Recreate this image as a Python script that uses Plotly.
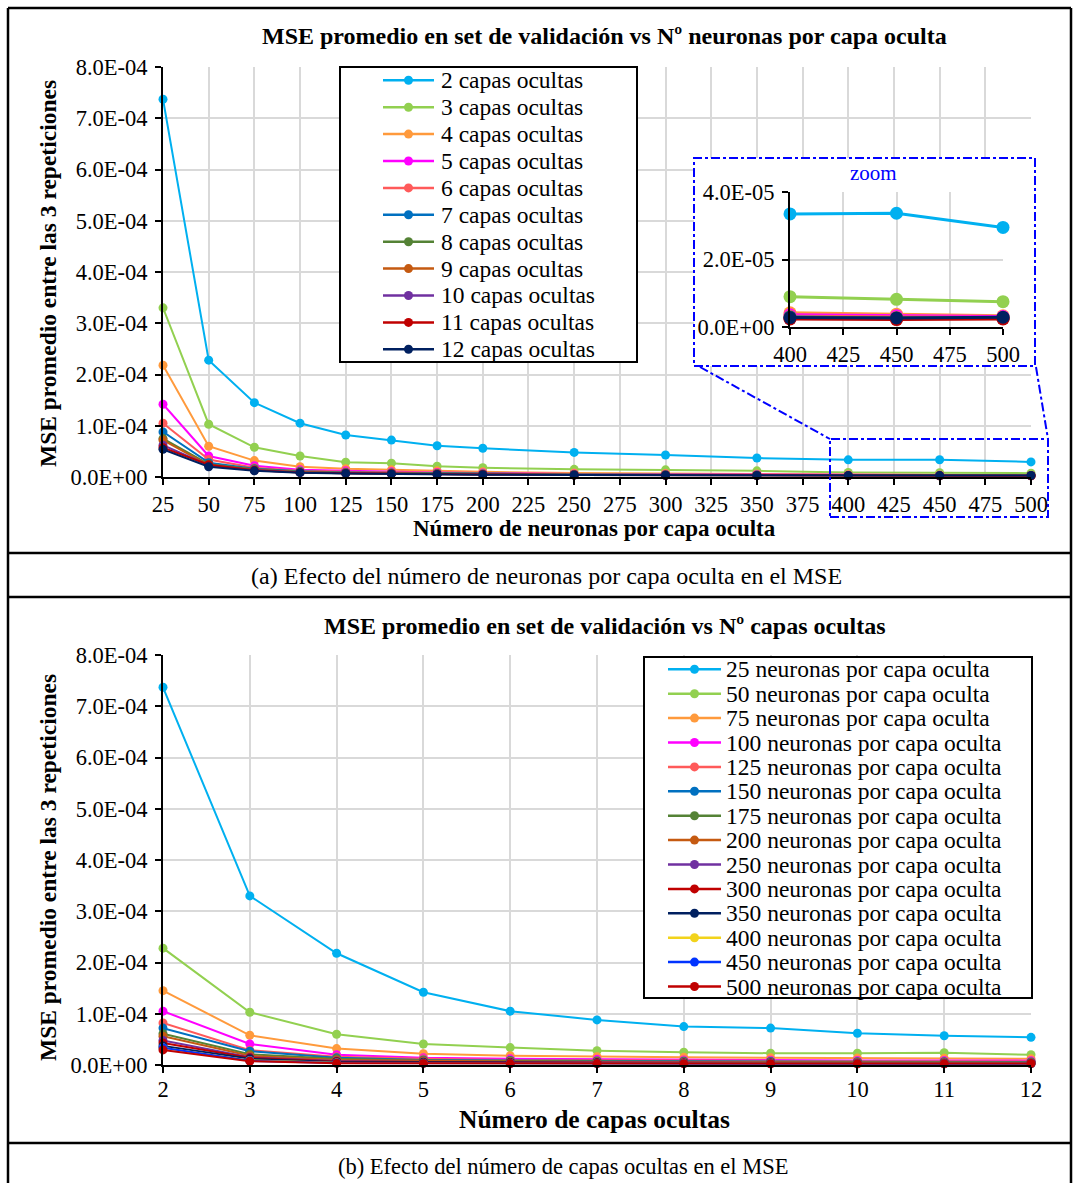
import plotly.graph_objects as go

W, H = 1073, 1183
FONT = "Liberation Serif"

# ---------------- data ----------------
neurons = [25, 50, 75, 100, 125, 150, 175, 200, 250, 300, 350, 400, 450, 500]
layers = [2, 3, 4, 5, 6, 7, 8, 9, 10, 11, 12]

# MSE (mean of 3 repetitions) per number of hidden layers, one value per neuron count
mse_2 = [7.37e-4, 2.28e-4, 1.45e-4, 1.05e-4, 0.82e-4, 0.72e-4, 0.61e-4, 0.56e-4, 0.48e-4, 0.43e-4, 0.37e-4, 3.35e-5, 3.37e-5, 2.95e-5]
mse_3 = [3.30e-4, 1.03e-4, 0.58e-4, 0.41e-4, 0.29e-4, 0.27e-4, 0.21e-4, 0.18e-4, 0.15e-4, 0.14e-4, 0.12e-4, 9.0e-6, 8.2e-6, 7.5e-6]
mse_4 = [2.18e-4, 0.60e-4, 0.32e-4, 0.20e-4, 0.16e-4, 0.14e-4, 0.12e-4, 0.10e-4, 0.08e-4, 0.07e-4, 0.06e-4, 4.2e-6, 3.8e-6, 3.3e-6]
mse_5 = [1.42e-4, 0.41e-4, 0.22e-4, 0.14e-4, 0.12e-4, 0.10e-4, 0.09e-4, 0.08e-4, 0.06e-4, 0.055e-4, 0.05e-4, 3.6e-6, 3.3e-6, 3.1e-6]
mse_6 = [1.05e-4, 0.34e-4, 0.18e-4, 0.12e-4, 0.10e-4, 0.09e-4, 0.08e-4, 0.07e-4, 0.055e-4, 0.05e-4, 0.045e-4, 3.2e-6, 2.9e-6, 2.8e-6]
mse_7 = [0.88e-4, 0.28e-4, 0.16e-4, 0.11e-4, 0.09e-4, 0.08e-4, 0.07e-4, 0.06e-4, 0.05e-4, 0.045e-4, 0.04e-4, 3.0e-6, 2.7e-6, 2.7e-6]
mse_8 = [0.75e-4, 0.25e-4, 0.15e-4, 0.10e-4, 0.085e-4, 0.075e-4, 0.065e-4, 0.055e-4, 0.045e-4, 0.04e-4, 0.035e-4, 2.8e-6, 2.6e-6, 2.6e-6]
mse_9 = [0.72e-4, 0.23e-4, 0.14e-4, 0.095e-4, 0.08e-4, 0.07e-4, 0.06e-4, 0.05e-4, 0.045e-4, 0.04e-4, 0.035e-4, 2.7e-6, 2.5e-6, 2.5e-6]
mse_10 = [0.62e-4, 0.23e-4, 0.135e-4, 0.09e-4, 0.075e-4, 0.065e-4, 0.055e-4, 0.05e-4, 0.04e-4, 0.035e-4, 0.03e-4, 2.5e-6, 2.4e-6, 2.5e-6]
mse_11 = [0.57e-4, 0.24e-4, 0.13e-4, 0.09e-4, 0.075e-4, 0.065e-4, 0.055e-4, 0.05e-4, 0.04e-4, 0.035e-4, 0.03e-4, 2.4e-6, 2.2e-6, 2.4e-6]
mse_12 = [0.54e-4, 0.20e-4, 0.12e-4, 0.085e-4, 0.07e-4, 0.06e-4, 0.05e-4, 0.045e-4, 0.04e-4, 0.035e-4, 0.03e-4, 2.8e-6, 2.7e-6, 2.9e-6]
mse_by_layers = [mse_2, mse_3, mse_4, mse_5, mse_6, mse_7, mse_8, mse_9, mse_10, mse_11, mse_12]

layer_names = [f"{n} capas ocultas" for n in layers]
neuron_names = [f"{n} neuronas por capa oculta" for n in neurons]

layer_colors = ["#00B0F0", "#92D050", "#FF9A3C", "#FF00FF", "#FF5A5A", "#0070C0",
                "#548235", "#C55A11", "#7030A0", "#C00000", "#002060"]
neuron_colors = ["#00B0F0", "#92D050", "#FF9A3C", "#FF00FF", "#FF5A5A", "#0070C0",
                 "#548235", "#C55A11", "#7030A0", "#C00000", "#002060", "#F2D31B",
                 "#0033FF", "#C00000"]

main_yticks = [0, 1e-4, 2e-4, 3e-4, 4e-4, 5e-4, 6e-4, 7e-4, 8e-4]
main_yticktext = ["0.0E+00", "1.0E-04", "2.0E-04", "3.0E-04", "4.0E-04",
                  "5.0E-04", "6.0E-04", "7.0E-04", "8.0E-04"]
zoom_yticks = [0, 2e-5, 4e-5]
zoom_yticktext = ["0.0E+00", "2.0E-05", "4.0E-05"]
zoom_neurons_from = 400

title_a = "MSE promedio en set de validación vs Nº neuronas por capa oculta"
title_b = "MSE promedio en set de validación vs Nº capas ocultas"
ytitle = "MSE promedio entre las 3 repeticiones"
xtitle_a = "Número de neuronas por capa oculta"
xtitle_b = "Número de capas ocultas"
caption_a = "(a) Efecto del número de neuronas por capa oculta en el MSE"
caption_b = "(b) Efecto del número de capas ocultas en el MSE"


# ---------------- helpers (pixel -> paper) ----------------
def PX(p):
    return p / W


def PY(p):
    return 1 - p / H


GRID = "#D9D9D9"


def axis_style(**kw):
    d = dict(showgrid=True, gridcolor=GRID, gridwidth=1.5, zeroline=False,
             showline=True, linecolor="black", linewidth=2, automargin=False,
             ticks="outside", ticklen=6, tickwidth=1.5, tickcolor="black",
             tickfont=dict(family=FONT, size=22.5, color="black"))
    d.update(kw)
    return d


fig = go.Figure()

# ---- chart (a): MSE vs neurons, one line per number of layers ----
for name, vals, col in zip(layer_names, mse_by_layers, layer_colors):
    fig.add_trace(go.Scatter(x=neurons, y=vals, name=name, mode="lines+markers",
                             line=dict(color=col, width=2), marker=dict(color=col, size=9),
                             cliponaxis=False, showlegend=False, xaxis="x", yaxis="y"))

# ---- chart (b): MSE vs layers, one line per neuron count ----
for j, (name, col) in enumerate(zip(neuron_names, neuron_colors)):
    vals = [row[j] for row in mse_by_layers]
    fig.add_trace(go.Scatter(x=layers, y=vals, name=name, mode="lines+markers",
                             line=dict(color=col, width=2), marker=dict(color=col, size=9),
                             cliponaxis=False, showlegend=False, xaxis="x2", yaxis="y2"))

# ---- white box behind the zoom inset (empty subplot) ----
fig.add_trace(go.Scatter(x=[None], y=[None], showlegend=False, xaxis="x3", yaxis="y3",
                         hoverinfo="skip"))

# ---- zoom inset ----
k0 = neurons.index(zoom_neurons_from)
for name, vals, col in zip(layer_names, mse_by_layers, layer_colors):
    fig.add_trace(go.Scatter(x=neurons[k0:], y=vals[k0:], name=name, mode="lines+markers",
                             line=dict(color=col, width=3), marker=dict(color=col, size=13),
                             cliponaxis=False, showlegend=False, xaxis="x4", yaxis="y4"))

fig.update_layout(
    width=W, height=H, autosize=False,
    margin=dict(l=0, r=0, t=0, b=0, pad=0, autoexpand=False),
    paper_bgcolor="white", plot_bgcolor="white", showlegend=False,
    font=dict(family=FONT, color="black"),
    xaxis=axis_style(domain=[PX(163), PX(1031)], range=[25, 500], tickmode="linear",
                     tick0=25, dtick=25, anchor="y"),
    yaxis=axis_style(domain=[PY(477), PY(67)], range=[0, 8e-4], tickmode="array",
                     tickvals=main_yticks, ticktext=main_yticktext, anchor="x",
                     ticklabelstandoff=3),
    xaxis2=axis_style(domain=[PX(163), PX(1031)], range=[2, 12], tickmode="linear",
                      tick0=2, dtick=1, anchor="y2", ticklabelstandoff=-3),
    yaxis2=axis_style(domain=[PY(1065), PY(655)], range=[0, 8e-4], tickmode="array",
                      tickvals=main_yticks, ticktext=main_yticktext, anchor="x2",
                      ticklabelstandoff=3),
    xaxis3=dict(domain=[PX(694), PX(1035)], visible=False, range=[0, 1], anchor="y3"),
    yaxis3=dict(domain=[PY(366), PY(158)], visible=False, range=[0, 1], anchor="x3"),
    xaxis4=axis_style(domain=[PX(790), PX(1003)], range=[400, 500], tickmode="linear",
                      tick0=400, dtick=25, anchor="y4"),
    yaxis4=axis_style(domain=[PY(327), PY(192)], range=[0, 4e-5], tickmode="array",
                      tickvals=zoom_yticks, ticktext=zoom_yticktext, anchor="x4",
                      ticklabelstandoff=3),
)

shapes = []
annotations = []


def line(x0, y0, x1, y1, color="black", width=2.5, dash=None):
    d = dict(type="line", xref="paper", yref="paper", x0=PX(x0), y0=PY(y0),
             x1=PX(x1), y1=PY(y1), line=dict(color=color, width=width))
    if dash:
        d["line"]["dash"] = dash
    shapes.append(d)


def rect(x0, y0, x1, y1, color="black", width=2, fill=None, dash=None):
    d = dict(type="rect", xref="paper", yref="paper", x0=PX(x0), y0=PY(y1),
             x1=PX(x1), y1=PY(y0), line=dict(color=color, width=width))
    if fill:
        d["fillcolor"] = fill
    if dash:
        d["line"]["dash"] = dash
    shapes.append(d)


def text(x, y, s, size, bold=False, color="black", xanchor="center", angle=0):
    annotations.append(dict(xref="paper", yref="paper", x=PX(x), y=PY(y),
                            text=f"<b>{s}</b>" if bold else s, showarrow=False,
                            xanchor=xanchor, yanchor="middle", textangle=angle,
                            borderpad=0,
                            font=dict(family=FONT, size=size, color=color)))


# figure frame (open at the bottom edge of the picture)
line(8, 8, 1071, 8)
line(8, 8, 8, 1183)
line(1071, 8, 1071, 1183)
line(8, 553, 1071, 553)
line(8, 597, 1071, 597)
line(8, 1143, 1071, 1143)

# zoom decorations
BLUE = "#0000FF"
rect(694, 158, 1035, 366, color=BLUE, width=2, dash="dashdot")
rect(830, 439, 1048, 517, color=BLUE, width=2, dash="dashdot")
line(700, 367, 830, 439, color=BLUE, width=2, dash="dashdot")
line(1036, 367, 1048, 439, color=BLUE, width=2, dash="dashdot")
text(873, 173, "zoom", 21, color=BLUE)


def legend(box, names, colors, y0, step, lx0, lx1, tx):
    rect(*box, width=2, fill="white")
    mx = (lx0 + lx1) / 2
    for i, (nm, col) in enumerate(zip(names, colors)):
        cy = y0 + i * step
        line(lx0, cy, lx1, cy, color=col, width=2.5)
        shapes.append(dict(type="circle", xref="paper", yref="paper",
                           x0=PX(mx - 4.5), x1=PX(mx + 4.5), y0=PY(cy + 4.5), y1=PY(cy - 4.5),
                           fillcolor=col, line=dict(color=col, width=0)))
        text(tx, cy, nm, 23.5, xanchor="left")


legend((340, 67, 637, 362), layer_names, layer_colors, 80.3, 26.9, 383, 434, 440)
legend((644, 657, 1032, 998), neuron_names, neuron_colors, 669.3, 24.4, 668, 721, 725)

# titles and captions
text(604, 36, title_a, 24, bold=True)
text(605, 626, title_b, 24, bold=True)
text(48, 274, ytitle, 23.5, bold=True, angle=-90)
text(48, 868, ytitle, 23.5, bold=True, angle=-90)
text(594, 528, xtitle_a, 23, bold=True)
text(594, 1119, xtitle_b, 25.5, bold=True)
text(546, 576, caption_a, 24)
text(563, 1166, caption_b, 22.5)

fig.update_layout(shapes=shapes, annotations=annotations)
fig.write_html(
    "out.html",
    config={"displayModeBar": False},
    post_script="document.body.style.margin='0';document.body.style.padding='0';"
                "document.body.style.overflow='hidden';",
)
